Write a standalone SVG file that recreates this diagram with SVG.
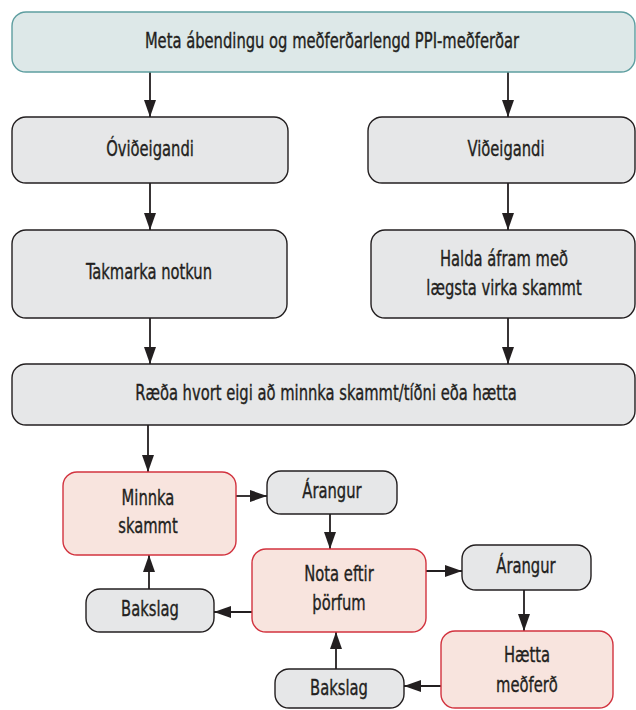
<svg xmlns="http://www.w3.org/2000/svg" width="636" height="710" viewBox="0 0 636 710">
<defs>
<style>
.box{stroke-width:1.4}
.teal{fill:#dde8e8;stroke:#5e9ea0}
.gray{fill:#e6e7e8;stroke:#231f20}
.pink{fill:#f8e4de;stroke:#d2333f}
.t{font-family:"DejaVu Sans Condensed","DejaVu Sans",sans-serif;font-size:21px;fill:#231f20;stroke:#231f20;stroke-width:0.35;text-anchor:middle}
.c line{stroke:#231f20;stroke-width:1.8;marker-end:url(#ah)}
</style>
<marker id="ah" markerUnits="userSpaceOnUse" markerWidth="18" markerHeight="13" refX="17" refY="6.5" orient="auto" viewBox="0 0 18 13">
<path d="M0,0.5 L17,6.5 L0,12.5 z" fill="#231f20"/>
</marker>
</defs>
<rect width="636" height="710" fill="#ffffff"/>
<g class="c" id="connectors">
<line x1="150" y1="72" x2="150" y2="117"/>
<line x1="508" y1="72" x2="508" y2="117"/>
<line x1="150" y1="183" x2="150" y2="230"/>
<line x1="508" y1="183" x2="508" y2="230"/>
<line x1="150" y1="318" x2="150" y2="364"/>
<line x1="508" y1="318" x2="508" y2="364"/>
<line x1="148" y1="425" x2="148" y2="472"/>
<line x1="236" y1="496" x2="267" y2="496"/>
<line x1="330" y1="514" x2="330" y2="549"/>
<line x1="252" y1="612" x2="214" y2="612"/>
<line x1="149" y1="589" x2="149" y2="555"/>
<line x1="426" y1="571" x2="462" y2="571"/>
<line x1="524" y1="590" x2="524" y2="631"/>
<line x1="441" y1="686" x2="404" y2="686"/>
<line x1="336" y1="669" x2="336" y2="632"/>
</g>
<g id="n-meta">
<rect class="box teal" x="12" y="12" width="623" height="60" rx="14"/>
<text class="t" transform="translate(332 48) scale(0.78 1)">Meta ábendingu og meðferðarlengd PPI-meðferðar</text>
</g>
<g id="n-ovideigandi">
<rect class="box gray" x="12" y="117" width="276" height="66" rx="14"/>
<text class="t" transform="translate(150 156) scale(0.78 1)">Óviðeigandi</text>
</g>
<g id="n-videigandi">
<rect class="box gray" x="368" y="117" width="267" height="66" rx="14"/>
<text class="t" transform="translate(506 156) scale(0.78 1)">Viðeigandi</text>
</g>
<g id="n-takmarka">
<rect class="box gray" x="12" y="230" width="275" height="88" rx="14"/>
<text class="t" transform="translate(149 279) scale(0.78 1)">Takmarka notkun</text>
</g>
<g id="n-halda">
<rect class="box gray" x="371" y="230" width="264" height="88" rx="14"/>
<text class="t" transform="translate(504 266) scale(0.78 1)">Halda áfram með</text>
<text class="t" transform="translate(504 295) scale(0.78 1)">lægsta virka skammt</text>
</g>
<g id="n-raeda">
<rect class="box gray" x="12" y="364" width="623" height="61" rx="14"/>
<text class="t" transform="translate(326 400) scale(0.78 1)">Ræða hvort eigi að minnka skammt/tíðni eða hætta</text>
</g>
<g id="n-minnka">
<rect class="box pink" x="63" y="472" width="173" height="83" rx="14"/>
<text class="t" transform="translate(148 505) scale(0.78 1)">Minnka</text>
<text class="t" transform="translate(148 533) scale(0.78 1)">skammt</text>
</g>
<g id="n-arangur1">
<rect class="box gray" x="267" y="471" width="130" height="43" rx="14"/>
<text class="t" transform="translate(332 498) scale(0.78 1)">Árangur</text>
</g>
<g id="n-nota">
<rect class="box pink" x="252" y="549" width="174" height="83" rx="14"/>
<text class="t" transform="translate(339 581) scale(0.78 1)">Nota eftir</text>
<text class="t" transform="translate(339 610) scale(0.78 1)">þörfum</text>
</g>
<g id="n-arangur2">
<rect class="box gray" x="462" y="545" width="129" height="45" rx="14"/>
<text class="t" transform="translate(526 573) scale(0.78 1)">Árangur</text>
</g>
<g id="n-bakslag1">
<rect class="box gray" x="86" y="589" width="128" height="43" rx="14"/>
<text class="t" transform="translate(150 616) scale(0.78 1)">Bakslag</text>
</g>
<g id="n-haetta">
<rect class="box pink" x="441" y="631" width="172" height="77" rx="14"/>
<text class="t" transform="translate(527 662) scale(0.78 1)">Hætta</text>
<text class="t" transform="translate(527 692) scale(0.78 1)">meðferð</text>
</g>
<g id="n-bakslag2">
<rect class="box gray" x="275" y="669" width="129" height="39" rx="14"/>
<text class="t" transform="translate(339 695) scale(0.78 1)">Bakslag</text>
</g>
</svg>
